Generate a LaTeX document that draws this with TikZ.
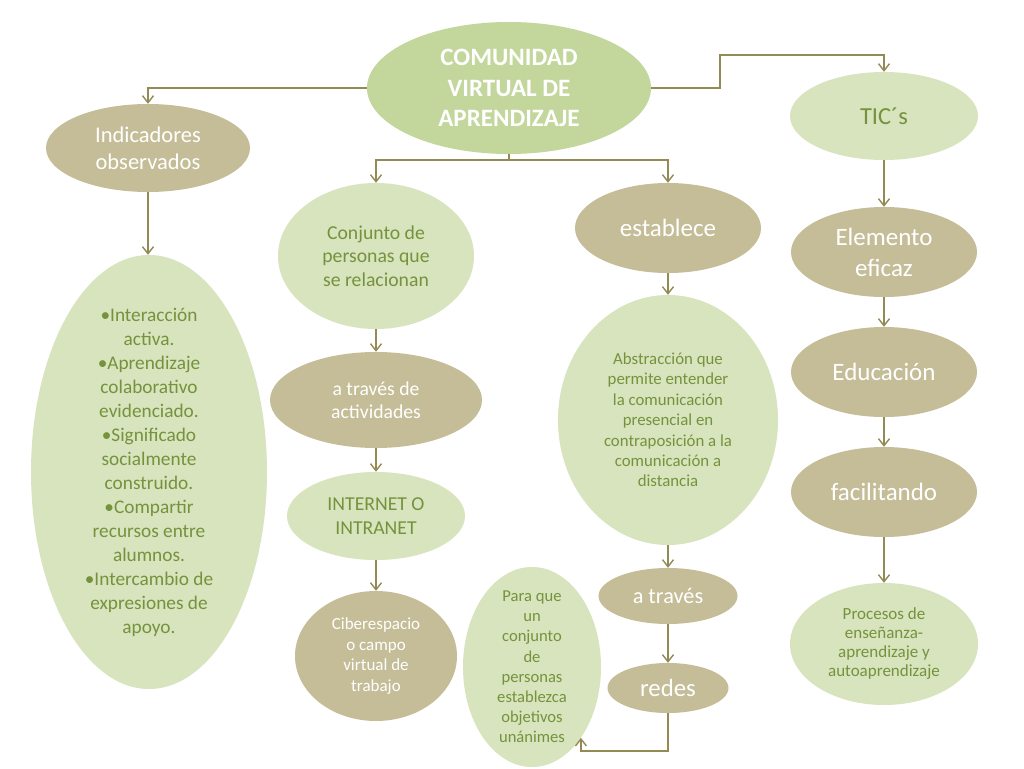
\documentclass[tikz,border=0pt]{standalone}
\usepackage{fontspec}
\setmainfont{Carlito}
\usetikzlibrary{shapes.geometric,arrows.meta,calc}
\definecolor{cTan}{HTML}{C4BD97}
\definecolor{cLight}{HTML}{D7E4BD}
\definecolor{cMain}{HTML}{C3D69B}
\definecolor{cGreen}{HTML}{76923C}
\definecolor{cLine}{HTML}{948A54}
\newcommand\fsz[2]{\fontsize{#1}{#2}\selectfont}
\tikzset{
  el/.style={ellipse, inner sep=0pt},
  dk/.style={el, fill=cTan},
  lt/.style={el, fill=cLight},
  tw/.style={text=white, align=center, inner sep=0pt},
  tg/.style={text=cGreen, align=center, inner sep=0pt},
  conn/.style={draw=cLine, line width=1.4pt, -{Straight Barb[length=7pt,width=11pt]}},
}
\begin{document}
\begin{tikzpicture}[x=1pt,y=-1pt]
\fill[white] (0,0) rectangle (1024,768);
\useasboundingbox (0,0) rectangle (1024,768);

\node[el, fill=cMain, minimum width=284pt, minimum height=132pt,
  label={[tw, font=\fsz{25}{30.5}\bfseries]center:{COMUNIDAD\\VIRTUAL DE\\APRENDIZAJE}}] (main) at (509,88) {};

\node[dk, minimum width=204pt, minimum height=88pt,
  label={[tw, font=\fsz{22.5}{27}]center:{Indicadores\\observados}}] (ind) at (148,148) {};
\node[lt, minimum width=236pt, minimum height=434pt,
  label={[tg, font=\fsz{19.3}{24}]center:{•Interacción\\activa.\\•Aprendizaje\\colaborativo\\evidenciado.\\•Significado\\socialmente\\construido.\\•Compartir\\recursos entre\\alumnos.\\•Intercambio de\\expresiones de\\apoyo.}}] (big) at (149,472) {};

\node[lt, minimum width=196pt, minimum height=146pt,
  label={[tg, font=\fsz{19.7}{23.7}]center:{Conjunto de\\personas que\\se relacionan}}] (conj) at (376,256) {};
\node[dk, minimum width=212pt, minimum height=96pt,
  label={[tw, font=\fsz{19.7}{23.5}]center:{a través de\\actividades}}] (act) at (376,400) {};
\node[lt, minimum width=178pt, minimum height=88pt,
  label={[tg, font=\fsz{19.7}{24.5}]center:{INTERNET O\\INTRANET}}] (inet) at (376,516) {};
\node[dk, minimum width=162pt, minimum height=130pt,
  label={[tw, font=\fsz{17}{20.5}]center:{Ciberespacio\\o campo\\virtual de\\trabajo}}] (cib) at (376,656) {};

\node[dk, minimum width=186pt, minimum height=90pt,
  label={[tw, font=\fsz{25}{30}]center:{establece}}] (est) at (668,228) {};
\node[lt, minimum width=220pt, minimum height=250pt,
  label={[tg, font=\fsz{16.8}{20.4}]center:{Abstracción que\\permite entender\\la comunicación\\presencial en\\contraposición a la\\comunicación a\\distancia}}] (abs) at (668,420) {};
\node[dk, minimum width=139pt, minimum height=56pt,
  label={[tw, font=\fsz{22.3}{26}]center:{a través}}] (atr) at (668,596) {};
\node[dk, minimum width=121pt, minimum height=50pt,
  label={[tw, font=\fsz{24.8}{28}]center:{redes}}] (red) at (668,688) {};
\node[lt, minimum width=138pt, minimum height=200pt,
  label={[tg, font=\fsz{16.6}{20.2}]center:{Para que\\un\\conjunto\\de\\personas\\establezca\\objetivos\\unánimes}}] (para) at (532,667) {};

\node[lt, minimum width=188pt, minimum height=88pt,
  label={[tg, font=\fsz{24.5}{28}]center:{TIC´s}}] (tic) at (884,116) {};
\node[dk, minimum width=186pt, minimum height=90pt,
  label={[tw, font=\fsz{25}{31}]center:{Elemento\\eficaz}}] (elem) at (884,252) {};
\node[dk, minimum width=186pt, minimum height=90pt,
  label={[tw, font=\fsz{25}{30}]center:{Educación}}] (edu) at (884,372) {};
\node[dk, minimum width=186pt, minimum height=90pt,
  label={[tw, font=\fsz{25}{30}]center:{facilitando}}] (fac) at (884,492) {};
\node[lt, minimum width=188pt, minimum height=122pt,
  label={[tg, font=\fsz{17}{19}]center:{Procesos de\\enseñanza-\\aprendizaje y\\autoaprendizaje}}] (proc) at (884,644) {};

\coordinate (j1) at (509,160);
\coordinate (k1) at (720,55);
\coordinate (r1) at (668,751);

\draw[conn] (main.west) -| (ind.north);
\draw[conn] (ind.south) -- (ind.south |- big.north);
\draw[conn] (main.south) -- (j1) -| (conj.north);
\draw[conn] (j1) -| (est.north);
\draw[conn] (main.east) -| (k1) -| (tic.north);
\draw[conn] (conj.south) -- (act.north);
\draw[conn] (act.south) -- (inet.north);
\draw[conn] (inet.south) -- (cib.north);
\draw[conn] (est.south) -- (abs.north);
\draw[conn] (abs.south) -- (atr.north);
\draw[conn] (atr.south) -- (red.north);
\draw[conn] (red.south) -- (r1) -| (para.south east);
\draw[conn] (tic.south) -- (elem.north);
\draw[conn] (elem.south) -- (edu.north);
\draw[conn] (edu.south) -- (fac.north);
\draw[conn] (fac.south) -- (proc.north);
\end{tikzpicture}
\end{document}
